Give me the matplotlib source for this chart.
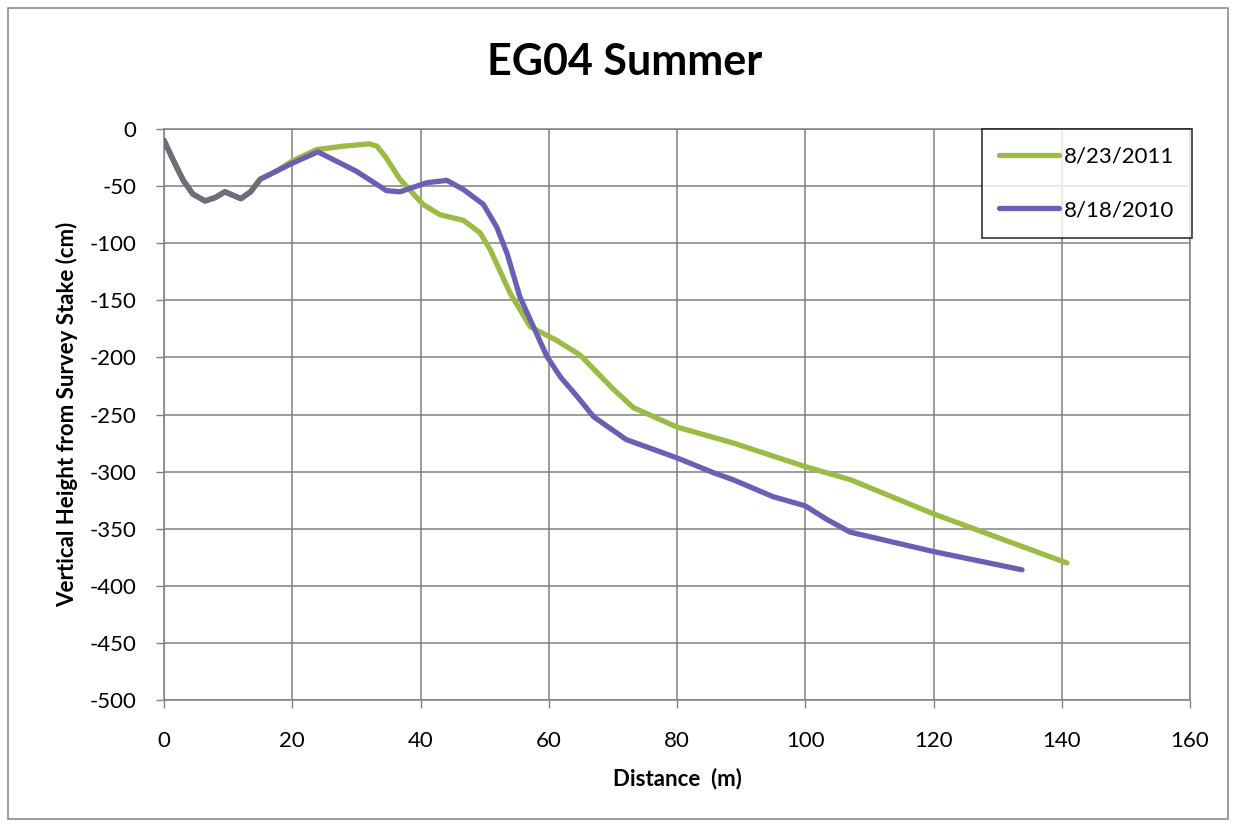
import matplotlib.pyplot as plt
from matplotlib.patches import Rectangle

# distance (m) and vertical height (cm)
dist_2011 = [0, 1.5, 3, 4.5, 6.4, 8, 9.5, 12, 13.5, 15, 17.5, 20, 23.8, 28, 32, 33.2, 34.5,
             36.8, 40.4, 43, 46.7, 49.3, 50.9, 54, 57.1, 58.4, 61.2, 64.9, 70.1,
             73.2, 80, 88.8, 100.2, 107, 120, 140.8]
height_2011 = [-10, -28, -45, -57, -63, -60, -55, -61, -55, -44, -37, -28, -18, -15, -13, -15, -24,
               -44, -66, -75, -80, -91, -106, -144, -173, -177, -185, -198, -228,
               -244, -261, -275, -296, -307, -337, -380]

dist_2010 = [0, 1.5, 3, 4.5, 6.4, 8, 9.5, 12, 13.5, 15, 17.5, 20, 24, 30, 34.7, 36.8,
             41, 44.1, 46.7, 49.8, 51.9, 53.5, 55.5, 57.6, 59.7, 61.8, 64.4, 67,
             72.1, 80, 85.7, 88.7, 95, 100, 103.4, 107, 120, 133.8]
height_2010 = [-10, -28, -45, -57, -63, -60, -55, -61, -55, -44, -37, -30, -20, -37, -54, -55,
               -47, -45, -53, -66, -86, -109, -147, -173, -199, -217, -234, -252,
               -272, -288, -301, -307, -322, -330, -342, -353, -370, -386]

labels = ['8/23/2011', '8/18/2010']
colors = ['#9bbb45', '#6b5fb5']
overlap_end = 15  # both surveys coincide up to here, drawn grey in the original

x_ticks = list(range(0, 161, 20))
y_ticks = list(range(0, -501, -50))

plt.rcParams['font.family'] = ['Lato', 'DejaVu Sans']
plt.rcParams['axes.unicode_minus'] = False

fig = plt.figure(figsize=(12.36, 8.27), dpi=100)
ax = fig.add_axes([164 / 1236, 1 - 700 / 827, (1190 - 164) / 1236, (700 - 129) / 827])

line_kw = dict(lw=3.8, solid_joinstyle='round', solid_capstyle='round')
ax.plot(dist_2011, height_2011, color=colors[0], label=labels[0], zorder=3, **line_kw)
ax.plot(dist_2010, height_2010, color=colors[1], label=labels[1], zorder=4, **line_kw)
n = sum(d <= overlap_end for d in dist_2010)
ax.plot(dist_2010[:n], height_2010[:n], color='#6e6e78', zorder=5, **line_kw)

ax.set_xlim(0, 160)
ax.set_ylim(-500, 0)
ax.set_xticks(x_ticks)
ax.set_yticks(y_ticks)
ax.tick_params(labelsize=16, length=6, width=1, color='#808080', direction='out')
ax.tick_params(axis='x', pad=16)
ax.tick_params(axis='y', pad=14)
ax.grid(True, color='#808080', lw=1.1)
ax.set_axisbelow(True)
for side in ['top', 'right', 'left', 'bottom']:
    ax.spines[side].set_color('#808080')
    ax.spines[side].set_linewidth(1.1)

fig.text(625 / 1236, 1 - 62 / 827, 'EG04 Summer', fontsize=31, fontweight='bold',
         ha='center', va='center')
ax.set_xlabel('Distance  (m)', fontsize=16, fontweight='bold', labelpad=12)
ax.set_ylabel('Vertical Height from Survey Stake (cm)', fontsize=16, fontweight='bold', labelpad=8)

leg = ax.legend(loc='upper right', bbox_to_anchor=(1.002, 1.0), fontsize=16, frameon=True,
                fancybox=False, edgecolor='black', handlelength=2.7, handletextpad=0.2,
                borderpad=0.8, labelspacing=1.5, borderaxespad=0)
leg.get_frame().set_linewidth(1.2)

fig.patches.append(Rectangle((8 / 1236, 8 / 827), 1220 / 1236, 811 / 827, transform=fig.transFigure,
                             fill=False, edgecolor='#8c8c8c', lw=1.2))

fig.savefig('out.png', dpi=100)
